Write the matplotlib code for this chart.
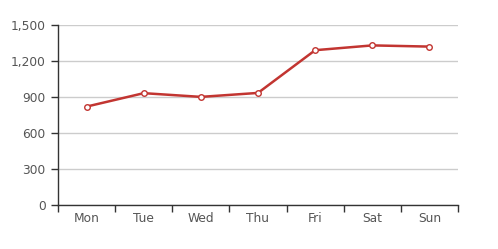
import matplotlib.pyplot as plt
from matplotlib.ticker import FuncFormatter

days = ['Mon', 'Tue', 'Wed', 'Thu', 'Fri', 'Sat', 'Sun']
values = [820, 932, 901, 934, 1290, 1330, 1320]
y_ticks = [0, 300, 600, 900, 1200, 1500]

red = '#c23531'
axis_col = '#333333'
label_col = '#555555'

fig = plt.figure(figsize=(4.98, 2.49), dpi=100)
ax = fig.add_axes([58 / 498, 1 - 205 / 249, 400 / 498, 180 / 249])

x = list(range(len(days)))
ax.plot(x, values, color=red, lw=1.8, marker='o', ms=4,
        mfc='white', mec=red, mew=1, zorder=3, clip_on=False)

ax.set_xlim(-0.5, len(days) - 0.5)
ax.set_ylim(0, 1500)
ax.set_yticks(y_ticks)
ax.yaxis.set_major_formatter(FuncFormatter(lambda v, p: f'{int(v):,}'))
ax.set_xticks(x)
ax.set_xticklabels(days)
ax.set_xticks([i - 0.5 for i in range(len(days) + 1)], minor=True)
ax.tick_params(axis='x', which='major', length=0, pad=5)
ax.tick_params(axis='x', which='minor', length=5, width=1, color=axis_col)
ax.tick_params(axis='y', length=5, width=1, color=axis_col, pad=4)
ax.tick_params(labelsize=8.8, labelcolor=label_col)

ax.grid(axis='y', color='#cccccc', lw=1)
ax.set_axisbelow(True)
for s in ['top', 'right']:
    ax.spines[s].set_visible(False)
for s in ['left', 'bottom']:
    ax.spines[s].set_color(axis_col)
    ax.spines[s].set_linewidth(1)

fig.savefig('out.png', dpi=100)
